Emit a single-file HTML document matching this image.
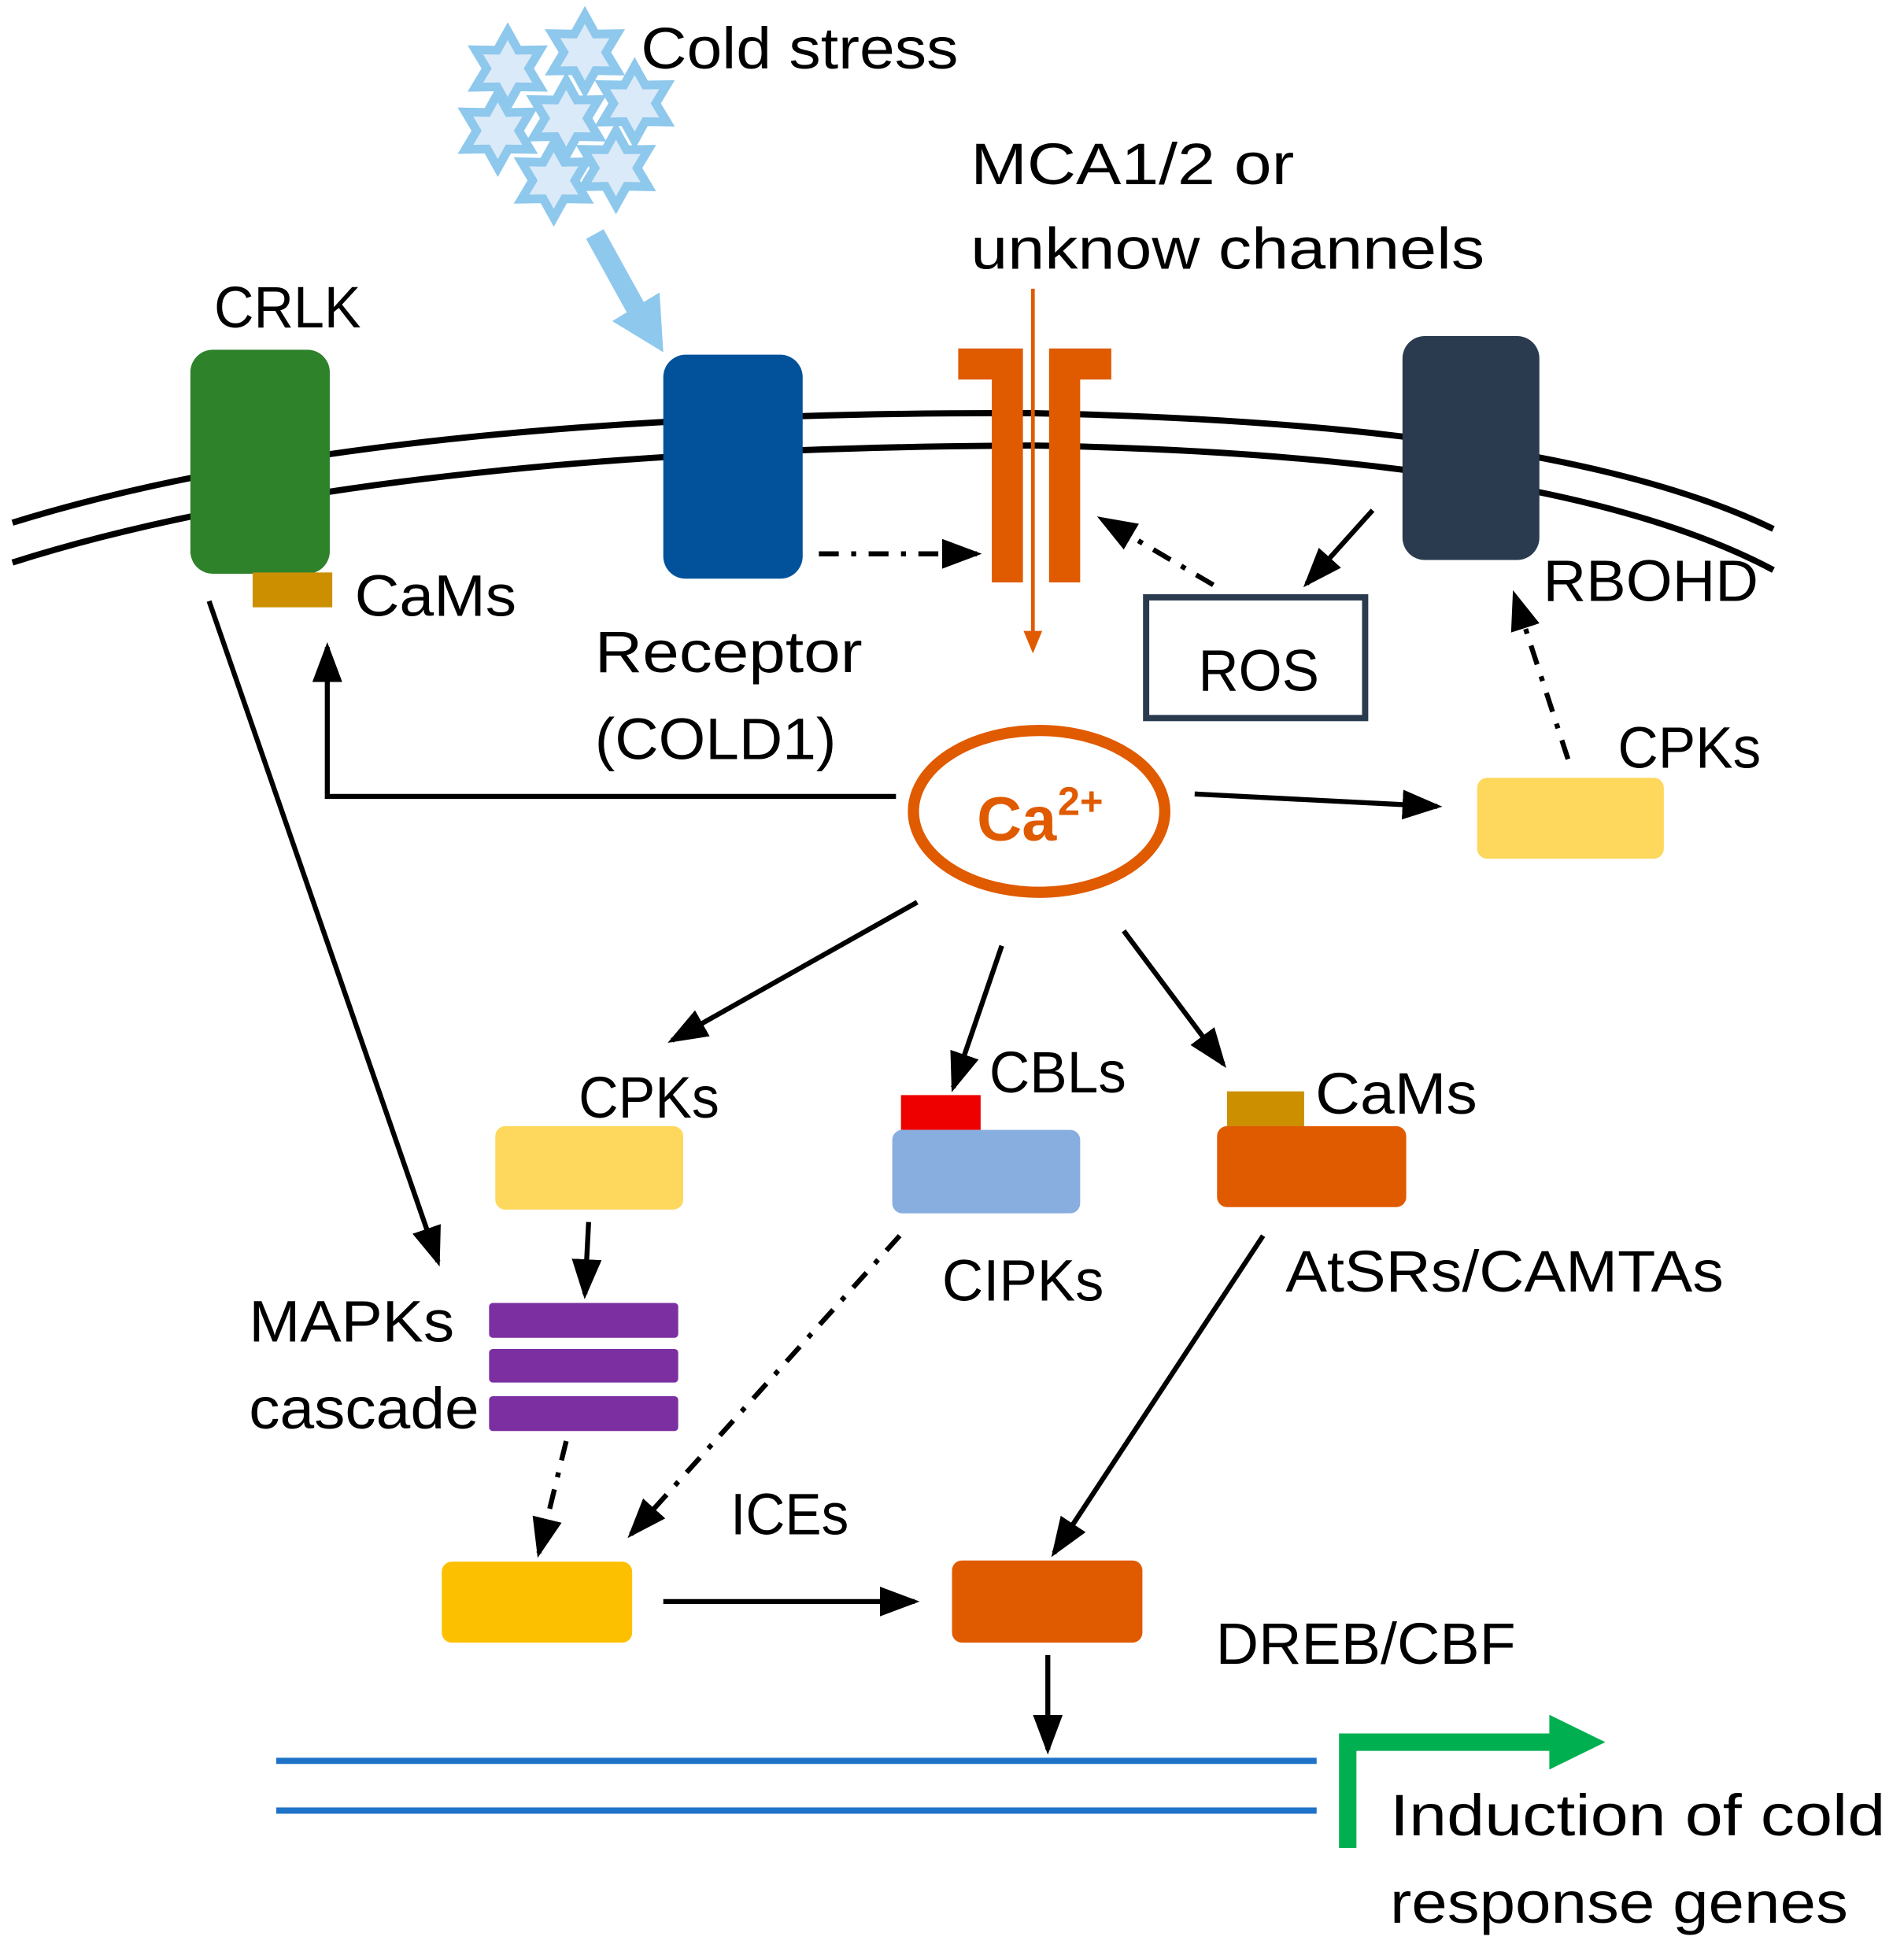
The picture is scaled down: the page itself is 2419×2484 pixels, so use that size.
<!DOCTYPE html>
<html><head><meta charset="utf-8"><style>html,body{margin:0;padding:0;background:#fff}svg{display:block}text{font-family:"Liberation Sans",sans-serif;font-size:47px;fill:#000}</style></head>
<body>
<svg width="2419" height="2484" viewBox="0 0 1530 1571" xmlns="http://www.w3.org/2000/svg">
<defs>
<marker id="ah" markerWidth="8" markerHeight="8" refX="7" refY="4" orient="auto" markerUnits="strokeWidth"><path d="M0,1 L8,4 L0,7 z" fill="#000"/></marker>
<marker id="ao" markerWidth="6" markerHeight="6" refX="5" refY="3" orient="auto" markerUnits="strokeWidth"><path d="M0,0.5 L6,3 L0,5.5 z" fill="#e05a00"/></marker>
<symbol id="st" viewBox="-34 -34 68 68" overflow="visible"><polygon points="0,-30 8.5,-14.7 26,-15 17,0 26,15 8.5,14.7 0,30 -8.5,14.7 -26,15 -17,0 -26,-15 -8.5,-14.7" fill="#daeaf8" stroke="#8ec8ec" stroke-width="7" stroke-linejoin="miter"/></symbol>
</defs>
<use href="#st" x="374" y="21" width="68" height="68"/>
<use href="#st" x="436" y="8" width="68" height="68"/>
<use href="#st" x="476" y="49" width="68" height="68"/>
<use href="#st" x="421" y="61" width="68" height="68"/>
<use href="#st" x="366" y="71" width="68" height="68"/>
<use href="#st" x="411" y="111" width="68" height="68"/>
<use href="#st" x="461" y="101" width="68" height="68"/>
<text x="515" y="55" textLength="255" lengthAdjust="spacingAndGlyphs">Cold stress</text>
<line x1="478" y1="188" x2="515" y2="255" stroke="#8ec8ec" stroke-width="16"/>
<polygon points="492,258 533,283 530,235" fill="#8ec8ec"/>
<path d="M10,420 Q300,330 830,332 Q1250,340 1425,425" fill="none" stroke="#000" stroke-width="5"/>
<path d="M10,452 Q300,360 830,358 Q1250,365 1425,458" fill="none" stroke="#000" stroke-width="5"/>
<text x="172" y="263" textLength="118" lengthAdjust="spacingAndGlyphs">CRLK</text>
<rect x="153" y="281" width="112" height="180" rx="18" fill="#2e822a"/>
<rect x="203" y="460" width="64" height="28" fill="#cc8f00"/>
<text x="285" y="495" textLength="130" lengthAdjust="spacingAndGlyphs">CaMs</text>
<rect x="533" y="285" width="112" height="180" rx="18" fill="#02529b"/>
<text x="478" y="540" textLength="215" lengthAdjust="spacingAndGlyphs">Receptor</text>
<text x="478" y="610" textLength="194" lengthAdjust="spacingAndGlyphs">(COLD1)</text>
<text x="780" y="148" textLength="260" lengthAdjust="spacingAndGlyphs">MCA1/2 or</text>
<text x="780" y="216" textLength="413" lengthAdjust="spacingAndGlyphs">unknow channels</text>
<path d="M770,280 H822 V468 H797 V305 H770 Z" fill="#e05a00"/>
<path d="M843,280 H893 V305 H868 V468 H843 Z" fill="#e05a00"/>
<line x1="830" y1="232" x2="830" y2="522" stroke="#e05a00" stroke-width="3" marker-end="url(#ao)"/>
<rect x="1127" y="270" width="110" height="180" rx="18" fill="#2a3a4f"/>
<text x="1240" y="483" textLength="173" lengthAdjust="spacingAndGlyphs">RBOHD</text>
<rect x="921" y="480" width="176" height="97" fill="none" stroke="#2a3a4f" stroke-width="5"/>
<text x="963" y="555" textLength="97" lengthAdjust="spacingAndGlyphs">ROS</text>
<line x1="1103" y1="410" x2="1050" y2="469" stroke="#000" stroke-width="4" marker-end="url(#ah)"/>
<line x1="975" y1="470" x2="885" y2="417" stroke="#000" stroke-width="4" stroke-dasharray="16 10 4 10" marker-end="url(#ah)"/>
<line x1="658" y1="445" x2="785" y2="445" stroke="#000" stroke-width="4" stroke-dasharray="16 10 4 10" marker-end="url(#ah)"/>
<ellipse cx="835" cy="652" rx="101" ry="65" fill="none" stroke="#e05a00" stroke-width="9"/>
<text x="785" y="675" style="font-weight:bold;fill:#e05a00;font-size:50px">Ca</text>
<text x="850" y="655" style="font-weight:bold;fill:#e05a00;font-size:32px">2+</text>
<polyline points="720,640 263,640 263,520" fill="none" stroke="#000" stroke-width="4" marker-end="url(#ah)"/>
<line x1="960" y1="638" x2="1155" y2="648" stroke="#000" stroke-width="4" marker-end="url(#ah)"/>
<rect x="1187" y="625" width="150" height="65" rx="8" fill="#fdd85d"/>
<text x="1300" y="617" textLength="115" lengthAdjust="spacingAndGlyphs">CPKs</text>
<line x1="1260" y1="610" x2="1217" y2="478" stroke="#000" stroke-width="4" stroke-dasharray="16 10 4 10" marker-end="url(#ah)"/>
<line x1="168" y1="483" x2="352" y2="1014" stroke="#000" stroke-width="4" marker-end="url(#ah)"/>
<line x1="737" y1="725" x2="540" y2="836" stroke="#000" stroke-width="4" marker-end="url(#ah)"/>
<line x1="805" y1="760" x2="766" y2="874" stroke="#000" stroke-width="4" marker-end="url(#ah)"/>
<line x1="903" y1="748" x2="983" y2="855" stroke="#000" stroke-width="4" marker-end="url(#ah)"/>
<text x="465" y="898" textLength="113" lengthAdjust="spacingAndGlyphs">CPKs</text>
<rect x="398" y="905" width="151" height="67" rx="8" fill="#fdd85d"/>
<rect x="724" y="880" width="64" height="28" fill="#ee0000"/>
<text x="795" y="878" textLength="110" lengthAdjust="spacingAndGlyphs">CBLs</text>
<rect x="717" y="908" width="151" height="67" rx="8" fill="#88aee0"/>
<text x="757" y="1045" textLength="130" lengthAdjust="spacingAndGlyphs">CIPKs</text>
<rect x="986" y="877" width="62" height="28" fill="#cc8f00"/>
<text x="1057" y="895" textLength="130" lengthAdjust="spacingAndGlyphs">CaMs</text>
<rect x="978" y="905" width="152" height="65" rx="8" fill="#e05a00"/>
<text x="1033" y="1038" textLength="352" lengthAdjust="spacingAndGlyphs">AtSRs/CAMTAs</text>
<line x1="473" y1="982" x2="470" y2="1040" stroke="#000" stroke-width="4" marker-end="url(#ah)"/>
<rect x="393" y="1047" width="152" height="28" rx="3" fill="#7b2fa0"/>
<rect x="393" y="1084" width="152" height="27" rx="3" fill="#7b2fa0"/>
<rect x="393" y="1122" width="152" height="28" rx="3" fill="#7b2fa0"/>
<text x="200" y="1078" textLength="165" lengthAdjust="spacingAndGlyphs">MAPKs</text>
<text x="200" y="1148" textLength="185" lengthAdjust="spacingAndGlyphs">cascade</text>
<line x1="455" y1="1158" x2="433" y2="1248" stroke="#000" stroke-width="4" stroke-dasharray="16 10 4 10" marker-end="url(#ah)"/>
<line x1="723" y1="993" x2="507" y2="1233" stroke="#000" stroke-width="4" stroke-dasharray="16 10 4 10" marker-end="url(#ah)"/>
<text x="587" y="1233" textLength="95" lengthAdjust="spacingAndGlyphs">ICEs</text>
<rect x="355" y="1255" width="153" height="65" rx="8" fill="#fdc000"/>
<line x1="533" y1="1287" x2="735" y2="1287" stroke="#000" stroke-width="4" marker-end="url(#ah)"/>
<line x1="1015" y1="993" x2="847" y2="1248" stroke="#000" stroke-width="4" marker-end="url(#ah)"/>
<rect x="765" y="1254" width="153" height="66" rx="8" fill="#e05a00"/>
<text x="977" y="1337" textLength="241" lengthAdjust="spacingAndGlyphs">DREB/CBF</text>
<line x1="842" y1="1330" x2="842" y2="1406" stroke="#000" stroke-width="4" marker-end="url(#ah)"/>
<line x1="222" y1="1415" x2="1058" y2="1415" stroke="#1e73c8" stroke-width="5"/>
<line x1="222" y1="1455" x2="1058" y2="1455" stroke="#1e73c8" stroke-width="5"/>
<polyline points="1083,1485 1083,1400 1250,1400" fill="none" stroke="#00b050" stroke-width="14"/>
<polygon points="1245,1378 1290,1400 1245,1422" fill="#00b050"/>
<text x="1117" y="1475" textLength="398" lengthAdjust="spacingAndGlyphs">Induction of cold</text>
<text x="1117" y="1545" textLength="368" lengthAdjust="spacingAndGlyphs">response genes</text>
</svg>
</body></html>
